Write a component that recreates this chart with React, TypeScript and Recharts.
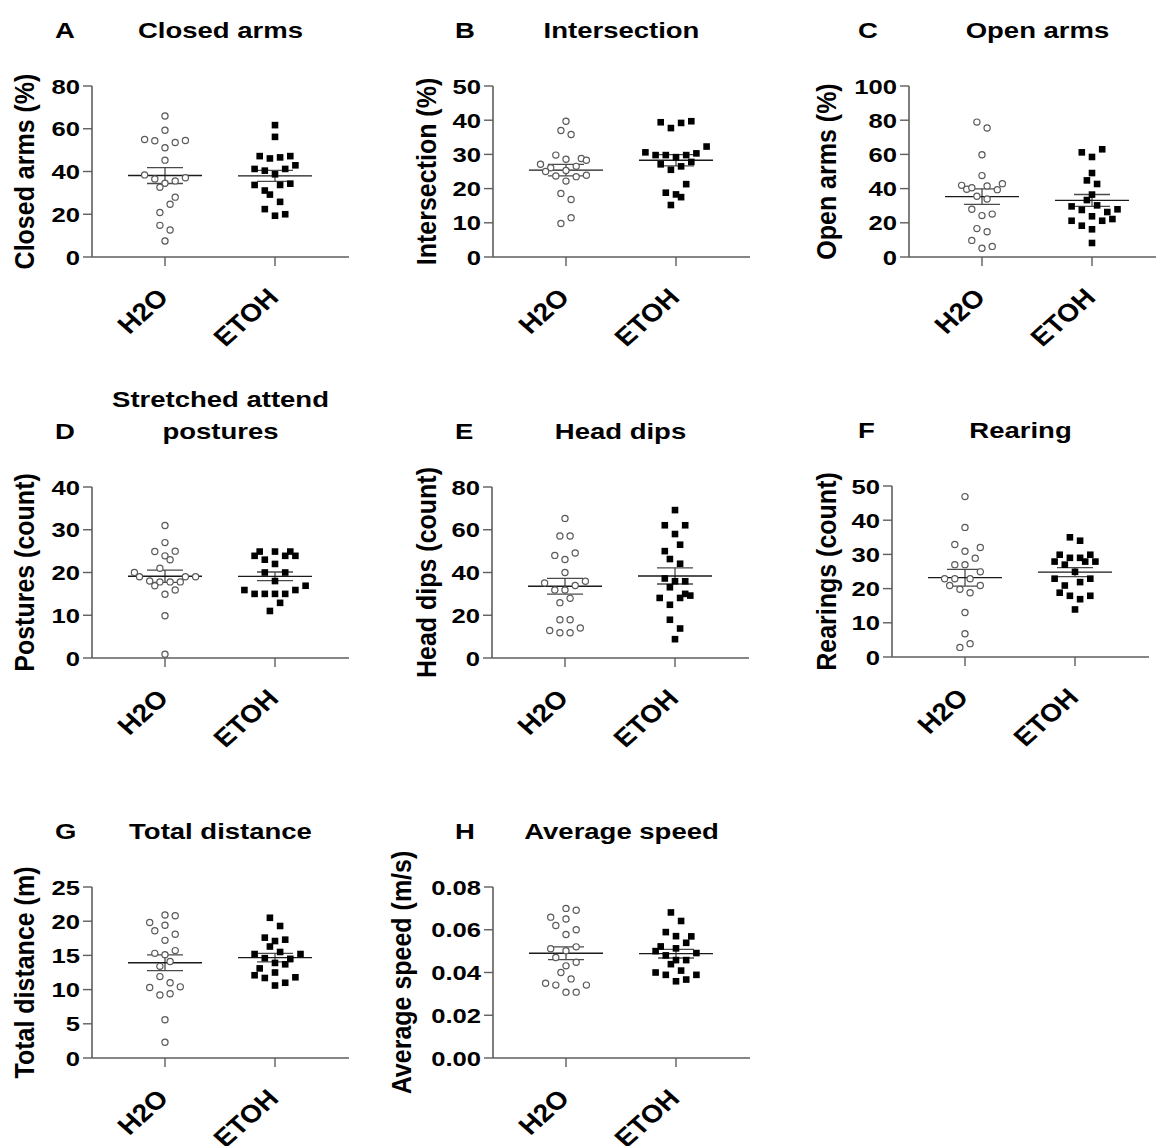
import React from 'react';
import { ScatterChart, Scatter, XAxis, YAxis, ReferenceLine } from 'recharts';

// ---------- data ----------
const groups = ['H2O', 'ETOH'];

const aTicks = [0, 20, 40, 60, 80];
const aH2O = [66, 59.3, 55.0, 54.4, 53.6, 54.5, 51.1, 45.3, 38.4, 36.5, 34.5, 32.6, 35.6, 37.1, 28.0, 24.7, 20.8, 14.8, 12.6, 7.5];
const aH2OSlot = [0, 0, -4, -2, 2, 4, 0, 0, -4, -2, 0, -1, 2, 4, 2, 1, -1, -1, 1, 0];
const aEtoh = [61.7, 56.2, 47.2, 46.1, 46.6, 47.2, 41.2, 40.4, 38.7, 41.2, 42.9, 33.7, 31.1, 29.2, 33.7, 34.3, 25.8, 22.4, 19.3, 20.0];
const aEtohSlot = [0, 0, -3, -1, 1, 3, -4, -2, 0, 2, 4, -4, -2, -1, 1, 3, 1, -2, 0, 2];

const bTicks = [0, 10, 20, 30, 40, 50];
const bH2O = [39.7, 37.0, 35.8, 29.8, 28.6, 28.8, 28.3, 27.1, 26.1, 25.0, 25.3, 26.5, 23.7, 23.5, 23.9, 22.2, 18.6, 16.8, 11.5, 9.8];
const bH2OSlot = [0, -1, 1, -2, 0, 3, 4, -5, -3, -4, 0, 2, -2, 2, 4, 0, -1, 1, 1, -1];
const bEtoh = [39.4, 37.7, 39.2, 39.7, 30.6, 29.8, 29.8, 29.2, 29.8, 30.3, 32.3, 27.1, 25.5, 26.5, 27.8, 21.3, 18.8, 18.3, 17.5, 15.2];
const bEtohSlot = [-3, -1, 1, 3, -6, -4, -2, 0, 2, 4, 6, -3, -1, 1, 3, 2, -2, 0, 1, -1];

const cTicks = [0, 20, 40, 60, 80, 100];
const cH2O = [78.9, 75.4, 59.8, 47.6, 41.9, 39.6, 40.5, 41.5, 39.4, 42.9, 35.5, 33.9, 27.9, 24.2, 25.1, 16.6, 14.8, 9.7, 5.1, 6.2];
const cH2OSlot = [-1, 1, 0, 0, -4, -3, -2, 1, 3, 4, -1, 1, -2, 0, 2, -1, 1, -2, 0, 2];
const cEtoh = [61.2, 58.5, 63.0, 49.1, 44.8, 42.7, 36.5, 33.3, 29.6, 27.5, 30.2, 23.8, 26.3, 27.9, 21.2, 18.3, 16.2, 21.2, 22.2, 8.2];
const cEtohSlot = [-2, 0, 2, 0, -1, 1, 0, -1, -4, -2, 1, 0, 3, 5, -4, -2, 0, 2, 4, 0];

const dTicks = [0, 10, 20, 30, 40];
const dH2O = [31.0, 27.0, 24.9, 25.0, 23.9, 23.0, 20.0, 21.0, 19.0, 19.0, 19.0, 18.0, 17.8, 17.8, 17.8, 16.9, 15.9, 14.9, 9.9, 0.9];
const dH2OSlot = [0, 0, -2, 2, 0, 1, -6, -1, -5, 4, 6, -3, -1, 1, 3, -2, 2, 0, 0, 0];
const dEtoh = [24.9, 24.9, 24.9, 23.9, 23.0, 23.9, 23.9, 22.0, 20.0, 20.0, 18.0, 15.9, 15.0, 15.0, 15.0, 15.0, 15.9, 16.9, 12.9, 11.0];
const dEtohSlot = [-3, 0, 3, -4, -2, 2, 4, 0, -2, 2, 0, -6, -4, -2, 0, 2, 4, 6, 1, -1];

const eTicks = [0, 20, 40, 60, 80];
const eH2O = [65.3, 57.1, 57.1, 48.0, 46.1, 49.1, 40.0, 35.1, 31.8, 31.8, 33.9, 35.9, 25.9, 27.9, 17.9, 17.9, 12.9, 11.8, 11.8, 14.0];
const eH2OSlot = [0, -1, 1, -2, 0, 2, 0, -4, -2, 0, 2, 4, -1, 1, -1, 1, -3, -1, 1, 3];
const eEtoh = [69.2, 62.1, 62.1, 58.0, 53.0, 50.0, 46.3, 44.1, 37.2, 35.9, 35.9, 33.1, 30.0, 29.2, 28.1, 28.1, 24.9, 17.9, 13.8, 8.8];
const eEtohSlot = [0, -2, 2, 0, 1, -2, -1, 1, -2, 0, 2, -1, 2, 3, -3, 1, -1, -1, 1, 0];

const fTicks = [0, 10, 20, 30, 40, 50];
const fH2O = [46.9, 37.9, 32.9, 32.0, 30.9, 28.9, 27.0, 27.0, 24.9, 22.9, 22.9, 22.9, 20.9, 20.9, 19.8, 18.8, 13.0, 6.8, 3.9, 2.8];
const fH2OSlot = [0, 0, -2, 3, 0, 2, -2, 0, 3, -4, -2, 1, -3, 3, -1, 1, 0, 0, 1, -1];
const fEtoh = [35.0, 34.0, 29.9, 29.0, 29.0, 29.9, 27.9, 27.0, 27.9, 27.9, 24.9, 22.9, 20.9, 21.9, 22.9, 18.8, 17.9, 16.9, 17.9, 13.9];
const fEtohSlot = [-1, 1, -3, -1, 1, 3, -4, -2, 2, 4, 0, -4, -2, 1, 3, -3, -1, 1, 3, 0];

const gTicks = [0, 5, 10, 15, 20, 25];
const gH2O = [20.9, 20.8, 19.8, 19.4, 18.6, 18.1, 17.2, 15.7, 15.3, 15.1, 14.1, 13.4, 11.9, 11.0, 10.3, 10.4, 9.2, 9.4, 5.6, 2.3];
const gH2OSlot = [0, 2, -3, 0, -2, 2, 0, 2, -2, 0, 1, -1, -1, 1, -3, 3, -1, 1, 0, 0];
const gEtoh = [20.5, 19.3, 17.6, 17.1, 17.3, 16.3, 15.5, 15.2, 15.2, 14.6, 14.5, 13.9, 13.7, 13.1, 12.1, 11.7, 12.5, 11.8, 11.0, 10.6];
const gEtohSlot = [-1, 1, -2, 0, 2, -1, 1, -4, 5, -2, 3, 0, 2, -3, -4, -2, 0, 4, 2, 0];

const hTicks = [0, 0.02, 0.04, 0.06, 0.08];
const hH2O = [0.07, 0.0691, 0.0659, 0.065, 0.062, 0.06, 0.0578, 0.0511, 0.052, 0.0502, 0.047, 0.0448, 0.0431, 0.04, 0.037, 0.035, 0.0341, 0.0341, 0.0308, 0.0308];
const hH2OSlot = [0, 2, -3, 0, -2, 2, 0, -3, 2, 0, -2, 2, 0, -1, 1, -4, -2, 4, 0, 2];
const hEtoh = [0.0681, 0.0641, 0.0589, 0.057, 0.0569, 0.0539, 0.0522, 0.0513, 0.05, 0.0491, 0.048, 0.0458, 0.0458, 0.0439, 0.0409, 0.04, 0.0389, 0.0389, 0.0359, 0.0367];
const hEtohSlot = [-1, 1, -2, 0, 3, 2, -3, 0, -4, 4, -2, 0, 2, -1, 1, -4, -2, 4, 0, 2];

// ---------- layout ----------
const FONT = '"Liberation Sans", Arial, Helvetica, sans-serif';
const AXIS = '#5e5e5e';
const PLOT_W = 257;
const PLOT_H = 171;
const UNIT_PX = 110;
const SLOT = 5.1 / UNIT_PX;
const X_MIN = 1 - 73 / UNIT_PX;
const X_DOMAIN: [number, number] = [X_MIN, X_MIN + PLOT_W / UNIT_PX];
const MEAN_HALF = 37 / UNIT_PX;
const CAP_HALF = 18 / UNIT_PX;
const YW = 90;
const MT = 10;
const XH = 130;
const MR = 12;

type PanelDef = {
  letter: string;
  title: string[];
  yLabel: string;
  ticks: number[];
  decimals: number;
  h2o: number[];
  h2oSlot: number[];
  etoh: number[];
  etohSlot: number[];
  axisX: number;
  plotTop: number;
  letterX: number;
  yLabelX: number;
};

const panels: PanelDef[] = [
  { letter: 'A', title: ['Closed arms'], yLabel: 'Closed arms (%)', ticks: aTicks, decimals: 0, h2o: aH2O, h2oSlot: aH2OSlot, etoh: aEtoh, etohSlot: aEtohSlot, axisX: 92, plotTop: 86, letterX: 55, yLabelX: 24 },
  { letter: 'B', title: ['Intersection'], yLabel: 'Intersection (%)', ticks: bTicks, decimals: 0, h2o: bH2O, h2oSlot: bH2OSlot, etoh: bEtoh, etohSlot: bEtohSlot, axisX: 493, plotTop: 86, letterX: 455, yLabelX: 426 },
  { letter: 'C', title: ['Open arms'], yLabel: 'Open arms (%)', ticks: cTicks, decimals: 0, h2o: cH2O, h2oSlot: cH2OSlot, etoh: cEtoh, etohSlot: cEtohSlot, axisX: 909, plotTop: 86, letterX: 858, yLabelX: 826 },
  { letter: 'D', title: ['Stretched attend', 'postures'], yLabel: 'Postures (count)', ticks: dTicks, decimals: 0, h2o: dH2O, h2oSlot: dH2OSlot, etoh: dEtoh, etohSlot: dEtohSlot, axisX: 92, plotTop: 487, letterX: 55, yLabelX: 24 },
  { letter: 'E', title: ['Head dips'], yLabel: 'Head dips (count)', ticks: eTicks, decimals: 0, h2o: eH2O, h2oSlot: eH2OSlot, etoh: eEtoh, etohSlot: eEtohSlot, axisX: 492, plotTop: 487, letterX: 455, yLabelX: 426 },
  { letter: 'F', title: ['Rearing'], yLabel: 'Rearings (count)', ticks: fTicks, decimals: 0, h2o: fH2O, h2oSlot: fH2OSlot, etoh: fEtoh, etohSlot: fEtohSlot, axisX: 892, plotTop: 486, letterX: 858, yLabelX: 826 },
  { letter: 'G', title: ['Total distance'], yLabel: 'Total distance (m)', ticks: gTicks, decimals: 0, h2o: gH2O, h2oSlot: gH2OSlot, etoh: gEtoh, etohSlot: gEtohSlot, axisX: 92, plotTop: 887, letterX: 55, yLabelX: 24 },
  { letter: 'H', title: ['Average speed'], yLabel: 'Average speed (m/s)', ticks: hTicks, decimals: 2, h2o: hH2O, h2oSlot: hH2OSlot, etoh: hEtoh, etohSlot: hEtohSlot, axisX: 493, plotTop: 887, letterX: 455, yLabelX: 401 },
];

function stats(arr: number[]) {
  const n = arr.length;
  const mean = arr.reduce((s, v) => s + v, 0) / n;
  const sd = Math.sqrt(arr.reduce((s, v) => s + (v - mean) * (v - mean), 0) / (n - 1));
  return { mean, sem: sd / Math.sqrt(n) };
}

const Circle = (props: any) => (
  <circle cx={props.cx} cy={props.cy} r={3.1} fill="#fff" stroke="#5a5a5a" strokeWidth={1.2} />
);
const Square = (props: any) => (
  <rect x={props.cx - 3.3} y={props.cy - 3.3} width={6.6} height={6.6} fill="#000" />
);

function makeYTick(decimals: number) {
  return (props: any) => {
    const { x, y, payload } = props;
    return (
      <text
        transform={`translate(${x},${y}) scale(1.22,1)`}
        textAnchor="end"
        dy="0.36em"
        fontSize={21}
        fontWeight="bold"
        fontFamily={FONT}
        fill="#000"
      >
        {Number(payload.value).toFixed(decimals)}
      </text>
    );
  };
}

const XTick = (props: any) => {
  const { x, y, payload } = props;
  const label = groups[Math.round(payload.value) - 1];
  return (
    <text
      transform={`translate(${x + 5},${y + 31}) scale(1.12,1) rotate(-45)`}
      textAnchor="end"
      fontSize={25}
      fontWeight="bold"
      fontFamily={FONT}
      fill="#000"
    >
      {label}
    </text>
  );
};

function Panel({ p }: { p: PanelDef }) {
  const h2oData = p.h2o.map((v, i) => ({ x: 1 + p.h2oSlot[i] * SLOT, y: v }));
  const etohData = p.etoh.map((v, i) => ({ x: 2 + p.etohSlot[i] * SLOT, y: v }));
  const st = [stats(p.h2o), stats(p.etoh)];
  const yMax = p.ticks[p.ticks.length - 1];
  return (
    <div style={{ position: 'absolute', left: p.axisX - YW, top: p.plotTop - MT }}>
      <ScatterChart
        width={YW + PLOT_W + MR}
        height={MT + PLOT_H + XH}
        margin={{ top: MT, right: MR, left: 0, bottom: 0 }}
      >
        <XAxis
          type="number"
          dataKey="x"
          domain={X_DOMAIN}
          ticks={[1, 2]}
          allowDataOverflow
          interval={0}
          height={XH}
          tickSize={9}
          tickMargin={2}
          axisLine={{ stroke: AXIS, strokeWidth: 1.6 }}
          tickLine={{ stroke: AXIS, strokeWidth: 1.4 }}
          tick={XTick}
        />
        <YAxis
          type="number"
          dataKey="y"
          domain={[0, yMax]}
          ticks={p.ticks}
          allowDataOverflow
          interval={0}
          width={YW}
          tickSize={9}
          tickMargin={3}
          axisLine={{ stroke: AXIS, strokeWidth: 1.6 }}
          tickLine={{ stroke: AXIS, strokeWidth: 1.4 }}
          tick={makeYTick(p.decimals)}
        />
        <Scatter data={h2oData} shape={Circle} isAnimationActive={false} />
        <Scatter data={etohData} shape={Square} isAnimationActive={false} />
        {st.map((s, gi) => {
          const g = gi + 1;
          return (
            <React.Fragment key={gi}>
              <ReferenceLine
                segment={[{ x: g, y: s.mean - s.sem }, { x: g, y: s.mean + s.sem }]}
                stroke="#4a4a4a"
                strokeWidth={1.3}
              />
              <ReferenceLine
                segment={[{ x: g - CAP_HALF, y: s.mean + s.sem }, { x: g + CAP_HALF, y: s.mean + s.sem }]}
                stroke="#4a4a4a"
                strokeWidth={1.3}
              />
              <ReferenceLine
                segment={[{ x: g - CAP_HALF, y: s.mean - s.sem }, { x: g + CAP_HALF, y: s.mean - s.sem }]}
                stroke="#4a4a4a"
                strokeWidth={1.3}
              />
              <ReferenceLine
                segment={[{ x: g - MEAN_HALF, y: s.mean }, { x: g + MEAN_HALF, y: s.mean }]}
                stroke="#1a1a1a"
                strokeWidth={1.4}
              />
            </React.Fragment>
          );
        })}
      </ScatterChart>
    </div>
  );
}

function Annotations() {
  return (
    <svg
      width={1156}
      height={1146}
      style={{ position: 'absolute', left: 0, top: 0, pointerEvents: 'none' }}
    >
      {panels.map((p) => {
        const cx = p.axisX + PLOT_W / 2;
        const base = p.plotTop - 48.5;
        const lines = p.title;
        const cy = p.plotTop + PLOT_H / 2;
        return (
          <g key={p.letter} fontFamily={FONT} fontWeight="bold" fill="#000">
            <text transform={`translate(${p.letterX},${base}) scale(1.25,1)`} fontSize={22}>
              {p.letter}
            </text>
            {lines.map((ln, i) => (
              <text
                key={i}
                transform={`translate(${cx},${base - (lines.length - 1 - i) * 32}) scale(1.25,1)`}
                textAnchor="middle"
                fontSize={22}
              >
                {ln}
              </text>
            ))}
            <text
              transform={`translate(${p.yLabelX},${cy}) scale(1.12,1) rotate(-90)`}
              textAnchor="middle"
              dy="0.36em"
              fontSize={25}
            >
              {p.yLabel}
            </text>
          </g>
        );
      })}
    </svg>
  );
}

export default function App() {
  return (
    <div
      style={{
        position: 'absolute',
        left: 0,
        top: 0,
        width: 1156,
        height: 1146,
        overflow: 'hidden',
        background: '#fff',
      }}
    >
      {panels.map((p) => (
        <Panel key={p.letter} p={p} />
      ))}
      <Annotations />
    </div>
  );
}
